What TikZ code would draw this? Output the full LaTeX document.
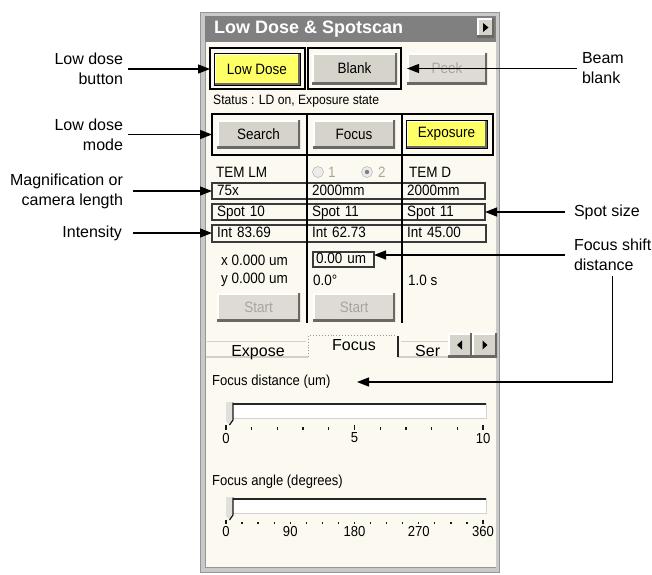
\documentclass[tikz,border=0pt]{standalone}
\usepackage{fontspec}
\setmainfont{Liberation Sans}
\newfontfamily\uifont[FakeStretch=0.9]{Liberation Sans}
\usetikzlibrary{arrows.meta}

\definecolor{panelbg}{HTML}{FCFAF0}
\definecolor{frameg}{HTML}{C9C9C9}
\definecolor{frameedge}{HTML}{969696}
\definecolor{titleg}{HTML}{808080}
\definecolor{btnface}{HTML}{D6D3CB}
\definecolor{btnshade}{HTML}{6A6864}
\definecolor{btnlite}{HTML}{FFFFFF}
\definecolor{ylw}{HTML}{FFFF66}
\definecolor{greytext}{HTML}{A8A49D}
\definecolor{offface}{HTML}{DEDBD4}
\definecolor{celledge}{HTML}{3A3A3A}
\definecolor{tabline}{HTML}{D2D0C8}

\begin{document}
\begin{tikzpicture}[x=1pt,y=-1pt,
  lbl/.style={font=\fontsize{16}{20}\selectfont, inner sep=0pt, outer xsep=5pt, outer ysep=5pt},
  arr/.style={line width=1.3pt, -{Triangle[length=12pt,width=9pt]}},
  uitext/.style={font=\uifont\fontsize{15}{18}\selectfont, inner sep=0pt},
  uismall/.style={font=\uifont\fontsize{13.5}{16}\selectfont, inner sep=0pt},
  bevelled/.style={path picture={
      \draw[btnlite,line width=3pt] (path picture bounding box.south west) |- (path picture bounding box.north east);
      \draw[btnshade,line width=4pt] (path picture bounding box.south west) -| (path picture bounding box.north east);}},
  uibtn/.style={uitext, bevelled, fill=btnface, outer sep=0pt},
  yelbtn/.style={uibtn, fill=ylw, draw=black, line width=0.8pt},
  offbtn/.style={uibtn, fill=offface, text=greytext},
  grpframe/.style={draw=black, line width=1.4pt, inner sep=0pt, outer sep=0pt},
  cellbox/.style={draw=celledge, line width=1.1pt, uitext, inner xsep=5pt, inner ysep=0pt,
      text height=10.5pt, text depth=2.5pt, align=left, outer sep=0pt},
  tabtext/.style={font=\fontsize{16}{18}\selectfont, inner sep=0pt},
  ticklbl/.style={font=\uifont\fontsize{14.5}{16}\selectfont, inner sep=0pt},
  divline/.style={black, line width=1.4pt},
]
\useasboundingbox (0,0) rectangle (652,574);

% ---------- window frame ----------
\fill[frameg] (200,12) rectangle (500,573);
\draw[frameedge, line width=0.8pt] (200.5,12.5) rectangle (499.5,572.5);
\fill[panelbg] (205,42) rectangle (496,567);
\draw[frameedge, line width=0.6pt] (205,42) -- (205,567) -- (496,567);
\fill[titleg] (205,16) rectangle (496,42);
\node[anchor=west, text=white, font=\bfseries\fontsize{18}{20}\selectfont, inner sep=0pt]
  (title) at (214,29.5) {Low Dose \& Spotscan};
\node[uibtn, minimum width=17pt, minimum height=19pt] (menubtn) at (485.5,27.5) {};
\fill[black] (483,23) -- (488.5,27.5) -- (483,32) -- cycle;

% ---------- first button row ----------
\node[grpframe, minimum width=95pt, minimum height=41pt] (ldframe) at (257.5,68.5) {};
\node[yelbtn, minimum width=86pt, minimum height=32pt] (lowdose) at (257,69) {Low Dose};
\node[grpframe, minimum width=93pt, minimum height=41pt] (blframe) at (354.5,68.5) {};
\node[uibtn, minimum width=85pt, minimum height=31pt] (blank) at (354.5,68.5) {Blank};
\node[offbtn, minimum width=80pt, minimum height=31pt] (peek) at (447,68.5) {Peek};

\node[uismall, anchor=west] (status) at (213,101) {Status : LD on, Exposure state};

% ---------- mode row ----------
\node[grpframe, minimum width=281pt, minimum height=41pt] (modeframe) at (352.5,134.5) {};
\node[uibtn, minimum width=83pt, minimum height=28pt] (search) at (258.5,134) {Search};
\node[uibtn, minimum width=82pt, minimum height=28pt] (focus) at (354,134) {Focus};
\node[yelbtn, minimum width=81pt, minimum height=28pt] (exposure) at (446.5,134) {Exposure};

% ---------- mode headers ----------
\node[uitext, anchor=west] (temlm) at (216,172) {TEM LM};
\draw[fill=white!85!gray, draw=gray!70] (318,172) circle[radius=5.5pt];
\node[uitext, anchor=west, text=greytext] (rad1) at (328,172) {1};
\draw[fill=white!85!gray, draw=gray!70] (367,172) circle[radius=5.5pt];
\fill[gray] (367,172) circle[radius=2.2pt];
\node[uitext, anchor=west, text=greytext] (rad2) at (378,172) {2};
\node[uitext, anchor=west] (temd) at (409,172) {TEM D};

% ---------- value cells ----------
\node[cellbox, text width=85pt, minimum height=16pt] (cA1) at (259.5,191) {75x};
\node[cellbox, text width=85pt, minimum height=16pt] (cA2) at (354.5,191) {2000mm};
\node[cellbox, text width=73pt, minimum height=16pt] (cA3) at (443.5,191) {2000mm};
\node[cellbox, text width=85pt, minimum height=16pt] (cB1) at (259.5,212) {Spot 10};
\node[cellbox, text width=85pt, minimum height=16pt] (cB2) at (354.5,212) {Spot 11};
\node[cellbox, text width=73pt, minimum height=16pt] (cB3) at (443.5,212) {Spot 11};
\node[cellbox, text width=85pt, minimum height=17pt] (cC1) at (259.5,233.5) {Int 83.69};
\node[cellbox, text width=85pt, minimum height=17pt] (cC2) at (354.5,233.5) {Int 62.73};
\node[cellbox, text width=74pt, minimum height=17pt] (cC3) at (444,233.5) {Int 45.00};

% ---------- spot scan values ----------
\node[uitext, anchor=west] (xval) at (221,260) {x 0.000 um};
\node[cellbox, inner xsep=3pt, text width=55pt, minimum height=15pt] (shiftbox) at (343.5,259.5) {0.00 um};
\node[uitext, anchor=west] (yval) at (221,280) {y 0.000 um};
\node[uitext, anchor=west] (angval) at (313,280) {0.0°};
\node[uitext, anchor=west] (timeval) at (408,280) {1.0 s};
\node[offbtn, minimum width=83pt, minimum height=28pt] (start1) at (258.5,307) {Start};
\node[offbtn, minimum width=82pt, minimum height=28pt] (start2) at (354,307) {Start};

% column dividers
\draw[divline] (307,114) -- (307,323);
\draw[divline] (402,114) -- (402,323);

% ---------- tab strip ----------
\draw[tabline, line width=1pt] (207,341.5) -- (306,341.5);
\draw[tabline, line width=1pt] (401,341.5) -- (448,341.5);
\draw[tabline, line width=1.2pt] (206,357) -- (308,357);
\draw[tabline, line width=1.2pt] (398,357) -- (496,357);
\draw[gray!80, dotted, line width=0.9pt] (308.5,357) |- (397,335.5);
\draw[gray!30!black, line width=1.4pt] (398,336) -- (398,357);
\node[tabtext, anchor=base] (tabexpose) at (258,356.5) {Expose};
\node[tabtext, anchor=base] (tabfocus) at (354,350) {Focus};
\node[tabtext, anchor=base west] (tabser) at (415,356.5) {Ser};
\node[uibtn, minimum width=24pt, minimum height=24pt] (tableft) at (460,345) {};
\node[uibtn, minimum width=25pt, minimum height=24pt] (tabright) at (484.5,345) {};
\fill[black] (457,345) -- (462,340.5) -- (462,349.5) -- cycle;
\fill[black] (482.5,340.5) -- (487.5,345) -- (482.5,349.5) -- cycle;

% ---------- focus distance slider ----------
\node[uismall, font=\uifont\fontsize{14.5}{16}\selectfont, anchor=west] (fdist) at (212,382) {Focus distance (um)};
\fill[white] (227,403) rectangle (486,418);
\draw[gray!35, line width=1pt] (486,403) -- (486,418) -- (227,418);
\draw[gray!30!black, line width=2pt] (227,419) |- (486,403.5);
\fill[btnface!70!white] (226,402) -- (233,402) -- (233,420) -- (229.5,425) -- (226,421) -- cycle;
\draw[gray!20!black, line width=1.2pt] (233,402.5) -- (233,420) -- (229.5,425);
\foreach \i in {0,...,10}{
  \draw[gray!20!black, line width=1.3pt] ({226+\i*25.7},427) -- ({226+\i*25.7},429.5);
}
\foreach \i in {0,5,10}{
  \draw[gray!20!black, line width=1.3pt] ({226+\i*25.7},424.5) -- ({226+\i*25.7},429.5);
}
\node[ticklbl] (fd0) at (226,438) {0};
\node[ticklbl] (fd5) at (354.5,438) {5};
\node[ticklbl] (fd10) at (483,438) {10};

% ---------- focus angle slider ----------
\node[uismall, font=\uifont\fontsize{14.5}{16}\selectfont, anchor=west] (fangle) at (212,482) {Focus angle (degrees)};
\fill[white] (227,498) rectangle (486,513);
\draw[gray!35, line width=1pt] (486,498) -- (486,513) -- (227,513);
\draw[gray!30!black, line width=2pt] (227,514) |- (486,498.5);
\fill[btnface!70!white] (226,497) -- (233,497) -- (233,515) -- (229.5,520) -- (226,516) -- cycle;
\draw[gray!20!black, line width=1.2pt] (233,497.5) -- (233,515) -- (229.5,520);
\foreach \i in {0,...,16}{
  \draw[gray!20!black, line width=1.3pt] ({226+\i*16.0625},521.5) -- ({226+\i*16.0625},524);
}
\foreach \i in {0,16}{
  \draw[gray!20!black, line width=1.3pt] ({226+\i*16.0625},519.5) -- ({226+\i*16.0625},524);
}
\node[ticklbl] (fa0) at (226,531) {0};
\node[ticklbl] (fa90) at (290.25,531) {90};
\node[ticklbl] (fa180) at (354.5,531) {180};
\node[ticklbl] (fa270) at (418.75,531) {270};
\node[ticklbl] (fa360) at (483,531) {360};

% ---------- callout labels ----------
\node[lbl, align=right, anchor=east] (labLDB) at (128,69) {Low dose\\button};
\node[lbl, align=right, anchor=east] (labLDM) at (128,134.5) {Low dose\\mode};
\node[lbl, align=right, anchor=east, outer xsep=10pt] (labMag) at (133,191) {Magnification or\\camera length};
\node[lbl, align=right, anchor=east, outer xsep=11pt] (labInt) at (133,233) {Intensity};
\node[lbl, align=left, anchor=west] (labBeam) at (577,68.5) {Beam\\blank};
\node[lbl, align=left, anchor=west, outer xsep=9pt] (labSpot) at (565,212) {Spot size};
\node[lbl, align=left, anchor=west, outer xsep=9pt] (labFSD) at (565,255) {Focus shift\\distance};
\coordinate (fdtip) at (357,382);

% ---------- connectors ----------
\draw[arr] (labLDB.east) -- (labLDB.east -| ldframe.west);
\draw[arr] (labLDM.east) -- (labLDM.east -| modeframe.west);
\draw[arr] (labMag.east) -- (labMag.east -| cA1.west);
\draw[arr] (labInt.east) -- (labInt.east -| cC1.west);
\draw[arr] (labBeam.west) -- (labBeam.west -| peek.west);
\draw[arr] (labSpot.west) -- (labSpot.west -| cB3.east);
\draw[arr] (labFSD.west) -- (labFSD.west -| shiftbox.east);
\draw[arr] (labFSD.south) |- (fdtip);
\end{tikzpicture}
\end{document}
